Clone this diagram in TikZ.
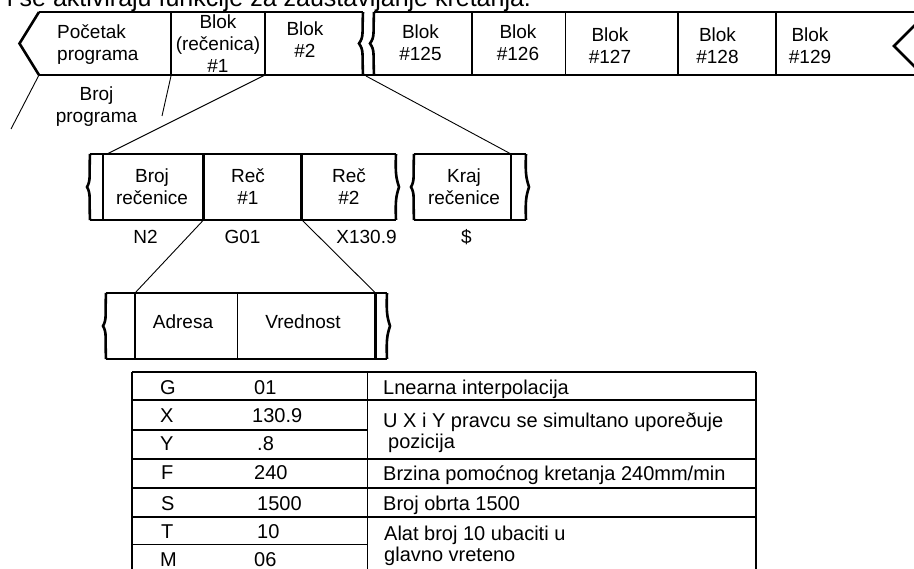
\documentclass[tikz,border=0pt]{standalone}
\usepackage{fontspec}
\setmainfont{Liberation Sans}

\tikzset{
  traka/.style={line width=2.6pt},
  pregrada/.style={line width=2.3pt},
  tanka/.style={line width=1pt},
  veza/.style={line width=0.9pt},
  natpis/.style={align=center, inner sep=0pt, font=\fontsize{19}{22}\selectfont},
  oznaka/.style={anchor=base, inner sep=0pt, font=\fontsize{19}{22}\selectfont},
  celija/.style={anchor=base west, inner sep=0pt, font=\fontsize{20}{24}\selectfont},
  tabela/.style={line width=1.2pt}
}

% prekinuta ivica trake: x, gore, dole, ispupcenje
\newcommand{\lom}[4]{%
  \draw[traka] (#1,#2) .. controls (#1-1,#2*0.65+#3*0.35) and (#1+1,#2*0.55+#3*0.45-4) .. (#1+#4,#2*0.5+#3*0.5)
    .. controls (#1+1,#2*0.45+#3*0.55+4) and (#1-1,#2*0.35+#3*0.65) .. (#1,#3);}

\begin{document}
\begin{tikzpicture}[x=1pt, y=-1pt]
\useasboundingbox (0,0) rectangle (914,569);

\node[anchor=base west, inner sep=0pt, font=\fontsize{25}{30}\selectfont] (naslov) at (7,7)
  {i se aktiviraju funkcije za zaustavljanje kretanja.};

% program
\draw[traka] (39,12) -- (19.5,43.5) -- (39,75);
\draw[traka] (39,12) -- (363,12) (374,12) -- (914,12);
\draw[traka] (39,75) -- (914,75);
\draw[traka] (920,20) -- (894,46) -- (920,72);
\draw[pregrada] (171,12) -- (171,75) (265,12) -- (265,75) (472,12) -- (472,75)
  (678,12) -- (678,75) (776,12) -- (776,75);
\draw[tanka] (565,12) -- (565,75);
\lom{363}{12}{75}{-4}
\lom{374}{12}{75}{-4}

\node[natpis, align=left, anchor=west] (poc) at (57,45) {Početak\\programa};
\node[natpis] (bl1) at (218,43.5) {Blok\\(rečenica)\\\#1};
\node[natpis] (bl2) at (305,40) {Blok\\\#2};
\node[natpis] (bl125) at (420.5,43) {Blok\\\#125};
\node[natpis] (bl126) at (518,43) {Blok\\\#126};
\node[natpis] (bl127) at (610,46) {Blok\\\#127};
\node[natpis] (bl128) at (717.5,46) {Blok\\\#128};
\node[natpis] (bl129) at (810,46) {Blok\\\#129};
\node[natpis] (brpr) at (96.5,106.5) {Broj\\programa};

% recenica
\draw[traka] (90,154) -- (396,154) (414,154) -- (526,154);
\draw[traka] (90,220) -- (396,220) (414,220) -- (526,220);
\lom{90}{154}{220}{-3}
\lom{396}{154}{220}{3}
\lom{414}{154}{220}{-3}
\lom{526}{154}{220}{3}
\draw[pregrada] (103,154) -- (103,220) (203.5,154) -- (203.5,220) (301.5,154) -- (301.5,220)
  (511,154) -- (511,220);

\node[natpis] (brrec) at (152,187) {Broj\\rečenice};
\node[natpis] (rec1) at (248,187) {Reč\\\#1};
\node[natpis] (rec2) at (349,187) {Reč\\\#2};
\node[natpis] (kraj) at (464,187) {Kraj\\rečenice};

\node[oznaka] (n2) at (145.5,244) {N2};
\node[oznaka] (g01) at (242.5,244) {G01};
\node[oznaka] (x130) at (366.5,244) {X130.9};
\node[oznaka] (dolar) at (466.5,244) {\$};

% rec
\draw[traka] (106,293) -- (387,293) (106,359) -- (387,359);
\lom{106}{293}{359}{-3}
\lom{387}{293}{359}{3}
\draw[pregrada] (135,293) -- (135,359) (375.5,293) -- (375.5,359);
\draw[tanka, line width=1.8pt] (237.5,293) -- (237.5,359);

\node[oznaka] (adr) at (183,329) {Adresa};
\node[oznaka] (vred) at (303,329) {Vrednost};

% veze
\coordinate (p0) at (39,75);
\coordinate (p0k) at (11,129);
\coordinate (b1d) at (171,76);
\coordinate (b1k) at (162,116);
\coordinate (b2d) at (265,75);
\coordinate (r0) at (107,154);
\coordinate (lomd) at (366,76);
\coordinate (r9) at (511,154);
\coordinate (r1d) at (203.5,220);
\coordinate (a0) at (135,293);
\coordinate (r2d) at (302,220);
\coordinate (a9) at (375.5,293);
\draw[veza] (p0) -- (p0k);
\draw[veza] (b1d) -- (b1k);
\draw[veza] (b2d) -- (r0);
\draw[veza] (lomd) -- (r9);
\draw[veza] (r1d) -- (a0);
\draw[veza] (r2d) -- (a9);

% tabela
\draw[tabela] (132,372) -- (756,372) (132,400) -- (756,400) (132,430) -- (367.5,430)
  (132,459) -- (756,459) (132,488) -- (756,488) (132,517) -- (756,517) (132,544.5) -- (367.5,544.5);
\draw[tabela] (132,372) -- (132,575) (367.5,372) -- (367.5,575) (756,372) -- (756,575);

\node[celija] (tg) at (160,395) {G};
\node[celija] (tx) at (160,423) {X};
\node[celija] (ty) at (160,451) {Y};
\node[celija] (tf) at (161,480) {F};
\node[celija] (ts) at (161,511) {S};
\node[celija] (tt) at (161,539) {T};
\node[celija] (tm) at (160,566) {M};
\node[celija] (vg) at (254,395) {01};
\node[celija] (vx) at (252,423) {130.9};
\node[celija] (vy) at (257,451) {.8};
\node[celija] (vf) at (254,480) {240};
\node[celija] (vs) at (257,511) {1500};
\node[celija] (vt) at (257,539) {10};
\node[celija] (vm) at (254,566) {06};
\node[celija] (og) at (383,395) {Lnearna interpolacija};
\node[celija] (oxy) at (383,428) {U X i Y pravcu se simultano uporeðuje};
\node[celija] (oxy2) at (388,449) {pozicija};
\node[celija] (of) at (383,481) {Brzina pomoćnog kretanja 240mm/min};
\node[celija] (os) at (383,511) {Broj obrta 1500};
\node[celija] (otm) at (384,540) {Alat broj 10 ubaciti u};
\node[celija] (otm2) at (384,561) {glavno vreteno};
\end{tikzpicture}
\end{document}
